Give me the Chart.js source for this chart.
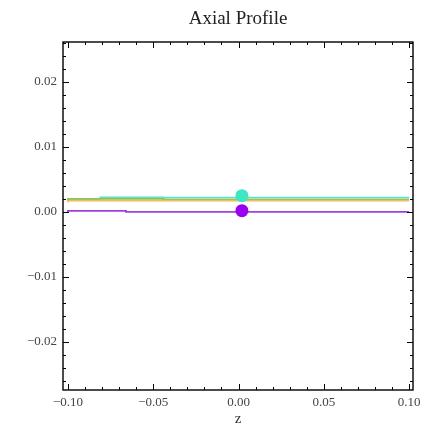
<!DOCTYPE html>
<html>
<head>
<meta charset="utf-8">
<script src="https://cdn.jsdelivr.net/npm/chart.js@4"></script>
<style>
  html, body { margin: 0; padding: 0; background: #fff; }
  #wrap { width: 434px; height: 434px; }
</style>
</head>
<body>
<div id="wrap"><canvas id="axial_chart" width="434" height="434"></canvas></div>
<script>
// step profiles (z breakpoints, value held until next breakpoint)
const purpleZ = [-0.1, -0.066, 0.086, 0.1];
const purpleV = [0.0000, 0.00015, 0.0000, 0.0000];
const orangeZ = [-0.1, -0.06, 0.1];
const orangeV = [0.0015, 0.00175, 0.00175];
const greenZ = [-0.1, -0.044, 0.045, 0.1];
const greenV = [0.0017, 0.0020, 0.0019, 0.0019];
const cyanZ = [-0.1, -0.081, -0.044, 0.045, 0.1];
const cyanV = [0.0018, 0.00195, 0.00225, 0.0022, 0.0022];

// marker points
const cyanDot = { x: 0.002, y: 0.0025 };
const purpleDot = { x: 0.002, y: 0.0002 };

const xTickValues = [-0.1, -0.05, 0, 0.05, 0.1];
const yTickValues = [-0.02, -0.01, 0, 0.01, 0.02];
const xMinorStep = 0.01;
const yMinorStep = 0.002;

function toPoints(zs, vs) {
    return zs.map((z, i) => ({ x: z, y: vs[i] }));
}

function fmt(v) {
    const s = Math.abs(v).toFixed(2);
    return v < -1e-9 ? '\u2212' + s : s;
}

const serif = "'Liberation Serif', 'DejaVu Serif', serif";

// Mathematica-like frame with ticks pointing inwards on all four sides
const framePlugin = {
    id: 'frame',
    afterDatasetsDraw(chart) {
        const { ctx, chartArea: a, scales } = chart;
        const xs = scales.x, ys = scales.y;
        ctx.save();
        ctx.strokeStyle = '#000';
        ctx.lineWidth = 1;
        ctx.beginPath();
        // x ticks
        for (let i = -12; i <= 12; i++) {
            const v = i * xMinorStep;
            if (v < xs.min || v > xs.max) continue;
            const px = Math.round(xs.getPixelForValue(v)) + 0.5;
            const len = (i % 5 === 0) ? 6 : 3;
            ctx.moveTo(px, a.bottom); ctx.lineTo(px, a.bottom - len);
            ctx.moveTo(px, a.top); ctx.lineTo(px, a.top + len);
        }
        // y ticks
        for (let i = -15; i <= 15; i++) {
            const v = i * yMinorStep;
            if (v < ys.min || v > ys.max) continue;
            const py = Math.round(ys.getPixelForValue(v)) + 0.5;
            const len = (i % 5 === 0) ? 6 : 3;
            ctx.moveTo(a.left, py); ctx.lineTo(a.left + len, py);
            ctx.moveTo(a.right, py); ctx.lineTo(a.right - len, py);
        }
        ctx.stroke();
        ctx.lineWidth = 1.4;
        ctx.strokeRect(a.left, a.top, a.right - a.left, a.bottom - a.top);

        // title centred over the plot
        ctx.fillStyle = '#222';
        ctx.font = "19px " + serif;
        ctx.textAlign = 'center';
        ctx.textBaseline = 'middle';
        ctx.fillText('Axial Profile', (a.left + a.right) / 2, 19);
        ctx.restore();
    }
};

function stepSet(data, color) {
    return {
        type: 'line',
        data: data,
        borderColor: color,
        borderWidth: 1.8,
        pointRadius: 0,
        stepped: 'after',
        fill: false
    };
}

function dotSet(pt, color) {
    return {
        type: 'scatter',
        data: [pt],
        backgroundColor: color,
        borderWidth: 0,
        pointRadius: 6.5
    };
}

new Chart(document.getElementById('axial_chart'), {
    type: 'line',
    data: {
        datasets: [
            dotSet(cyanDot, '#3ee6c4'),
            dotSet(purpleDot, '#9a00f0'),
            stepSet(toPoints(purpleZ, purpleV), '#a040e0'),
            stepSet(toPoints(orangeZ, orangeV), '#e8c060'),
            stepSet(toPoints(greenZ, greenV), '#90c050'),
            stepSet(toPoints(cyanZ, cyanV), '#60e0c8')
        ]
    },
    options: {
        responsive: false,
        animation: false,
        layout: { padding: { top: 42, right: 21, left: 0, bottom: 0 } },
        plugins: {
            legend: { display: false },
            tooltip: { enabled: false }
        },
        scales: {
            x: {
                type: 'linear',
                min: -0.1029,
                max: 0.1023,
                grid: { display: false, drawTicks: false },
                border: { display: false },
                afterBuildTicks: (s) => { s.ticks = xTickValues.map(v => ({ value: v })); },
                afterFit: (s) => { s.height = 44; },
                ticks: {
                    padding: 5,
                    color: '#444',
                    font: { family: serif, size: 13 },
                    maxRotation: 0,
                    callback: (v) => fmt(v)
                },
                title: {
                    display: true,
                    text: 'z',
                    color: '#333',
                    font: { family: serif, size: 15 },
                    padding: { top: 2, bottom: 6 }
                }
            },
            y: {
                type: 'linear',
                min: -0.0274,
                max: 0.02615,
                grid: { display: false, drawTicks: false },
                border: { display: false },
                afterBuildTicks: (s) => { s.ticks = yTickValues.map(v => ({ value: v })); },
                afterFit: (s) => { s.width = 63; },
                ticks: {
                    padding: 6,
                    color: '#444',
                    font: { family: serif, size: 13 },
                    callback: (v) => fmt(v)
                }
            }
        }
    },
    plugins: [framePlugin]
});
</script>
</body>
</html>
